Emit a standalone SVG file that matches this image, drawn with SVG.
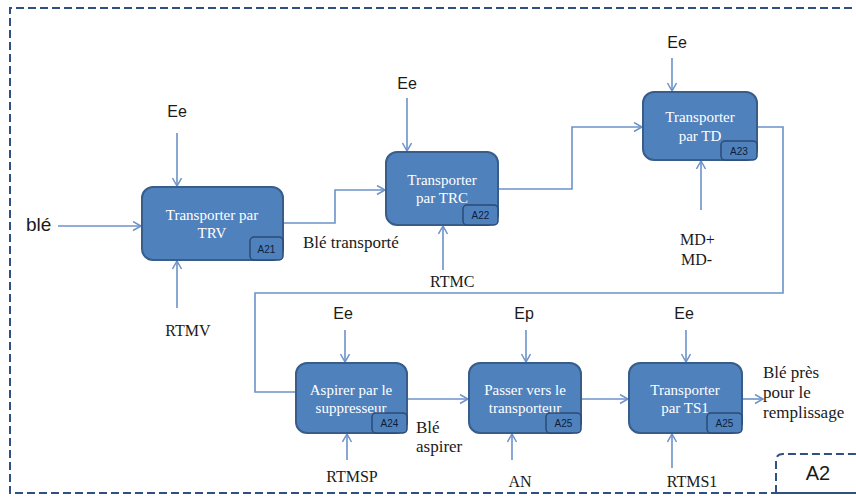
<svg xmlns="http://www.w3.org/2000/svg" width="856" height="497" viewBox="0 0 856 497">
  <defs>
    <marker id="arrow" markerUnits="userSpaceOnUse" markerWidth="12" markerHeight="12" refX="9" refY="5" orient="auto">
      <path d="M1,0.5 L9,5 L1,9.5" fill="none" stroke="#6B93C9" stroke-width="1.5"/>
    </marker>
    <style>
      .frame { fill: none; stroke: #2F5082; stroke-width: 2; stroke-dasharray: 8 4; }
      .solid { fill: none; stroke: #2F5082; stroke-width: 2; }
      .box { fill: #4F81BD; stroke: #385D8A; stroke-width: 2; }
      .tag { fill: #4F81BD; stroke: #2B4A75; stroke-width: 1.5; }
      .tagtxt { font-family: "Liberation Sans", Arial, sans-serif; font-size: 10px; fill: #0E1E3A; text-anchor: middle; }
      .ntxt { font-family: "Liberation Serif", "Times New Roman", serif; font-size: 15px; fill: #FFFFFF; text-anchor: middle; }
      .link { fill: none; stroke: #6B93C9; stroke-width: 1.6; }
      .arr { marker-end: url(#arrow); }
      .sans { font-family: "Liberation Sans", Arial, sans-serif; font-size: 16px; fill: #1A1A1A; }
      .serif { font-family: "Liberation Serif", "Times New Roman", serif; font-size: 16px; fill: #1A1A1A; }
      .desc { font-size: 17px; }
      .mid { text-anchor: middle; }
    </style>
  </defs>

  <rect width="856" height="497" fill="#FFFFFF"/>

  <!-- outer dashed frame -->
  <path class="frame" d="M852,8 H10 V493 H776"/>
  <!-- A2 title tab -->
  <g id="tab-A2">
    <path class="frame" d="M776,493 V461 Q776,454 783,454 H856"/>
    <path class="solid" d="M776,493 H856"/>
    <text class="sans" x="818" y="480" text-anchor="middle" style="font-size:20px">A2</text>
  </g>

  <!-- connectors -->
  <g id="connectors">
    <path class="link arr" d="M58,226 H141"/>
    <path class="link arr" d="M177,133 V186"/>
    <path class="link arr" d="M177,308 V261"/>
    <path class="link arr" d="M283,223 H335 V190 H385"/>
    <path class="link arr" d="M407,98 V151"/>
    <path class="link arr" d="M443,270 V226"/>
    <path class="link arr" d="M498,189 H572 V127 H642"/>
    <path class="link arr" d="M672,58 V91"/>
    <path class="link arr" d="M701,210 V161"/>
    <path class="link" d="M757,127 H783 V293 H255 V392 H296"/>
    <path class="link arr" d="M345,330 V362"/>
    <path class="link arr" d="M347,460 V434"/>
    <path class="link arr" d="M407,399 H468"/>
    <path class="link arr" d="M526,330 V362"/>
    <path class="link arr" d="M512,460 V434"/>
    <path class="link arr" d="M581,399 H628"/>
    <path class="link arr" d="M686,330 V362"/>
    <path class="link arr" d="M672,468 V434"/>
    <path class="link arr" d="M742,399 H763"/>
  </g>

  <!-- labels -->
  <g id="labels">
    <text class="sans" x="26" y="231" style="font-size:19px">blé</text>
    <text class="sans mid" x="177" y="117">Ee</text>
    <text class="sans mid" x="407" y="89">Ee</text>
    <text class="sans mid" x="677" y="48">Ee</text>
    <text class="sans mid" x="343" y="319">Ee</text>
    <text class="sans mid" x="524" y="319">Ep</text>
    <text class="sans mid" x="684" y="319">Ee</text>
    <text class="serif mid" x="188" y="336">RTMV</text>
    <text class="serif desc" x="303" y="248">Blé transporté</text>
    <text class="serif" x="430" y="287">RTMC</text>
    <text class="serif" x="680" y="245">MD+</text>
    <text class="serif" x="681" y="265">MD-</text>
    <text class="serif mid" x="352" y="482">RTMSP</text>
    <text class="serif desc" x="416" y="433">Blé</text>
    <text class="serif desc" x="416" y="452">aspirer</text>
    <text class="serif mid" x="520" y="487">AN</text>
    <text class="serif mid" x="692" y="487">RTMS1</text>
    <text class="serif desc" x="763" y="378">Blé près</text>
    <text class="serif desc" x="763" y="398">pour le</text>
    <text class="serif desc" x="763" y="418">remplissage</text>
  </g>

  <!-- activity boxes -->
  <g id="A21">
    <rect class="box" x="142" y="187" width="141" height="73" rx="11"/>
    <text class="ntxt" x="212" y="220">Transporter par</text>
    <text class="ntxt" x="212" y="238">TRV</text>
    <rect class="tag" x="250" y="237" width="33" height="23" rx="4"/>
    <text class="tagtxt" x="266.5" y="253">A21</text>
  </g>

  <g id="A22">
    <rect class="box" x="386" y="152" width="112" height="73" rx="11"/>
    <text class="ntxt" x="442" y="185">Transporter</text>
    <text class="ntxt" x="442" y="203">par TRC</text>
    <rect class="tag" x="463" y="205" width="35" height="20" rx="4"/>
    <text class="tagtxt" x="480.5" y="219">A22</text>
  </g>

  <g id="A23">
    <rect class="box" x="643" y="92" width="114" height="68" rx="11"/>
    <text class="ntxt" x="700" y="122">Transporter</text>
    <text class="ntxt" x="700" y="141">par TD</text>
    <rect class="tag" x="721" y="141" width="36" height="19" rx="4"/>
    <text class="tagtxt" x="739" y="155">A23</text>
  </g>

  <g id="A24">
    <rect class="box" x="296" y="363" width="111" height="70" rx="11"/>
    <text class="ntxt" x="351" y="395">Aspirer par le</text>
    <text class="ntxt" x="351" y="413">suppresseur</text>
    <rect class="tag" x="372" y="413" width="35" height="20" rx="4"/>
    <text class="tagtxt" x="389.5" y="427">A24</text>
  </g>

  <g id="A25-passer">
    <rect class="box" x="469" y="363" width="112" height="70" rx="11"/>
    <text class="ntxt" x="525" y="395">Passer vers le</text>
    <text class="ntxt" x="525" y="413">transporteur</text>
    <rect class="tag" x="546" y="413" width="35" height="20" rx="4"/>
    <text class="tagtxt" x="563.5" y="427">A25</text>
  </g>

  <g id="A25-TS1">
    <rect class="box" x="629" y="363" width="113" height="70" rx="11"/>
    <text class="ntxt" x="685" y="395">Transporter</text>
    <text class="ntxt" x="685" y="413">par TS1</text>
    <rect class="tag" x="707" y="413" width="35" height="20" rx="4"/>
    <text class="tagtxt" x="724.5" y="427">A25</text>
  </g>
</svg>
